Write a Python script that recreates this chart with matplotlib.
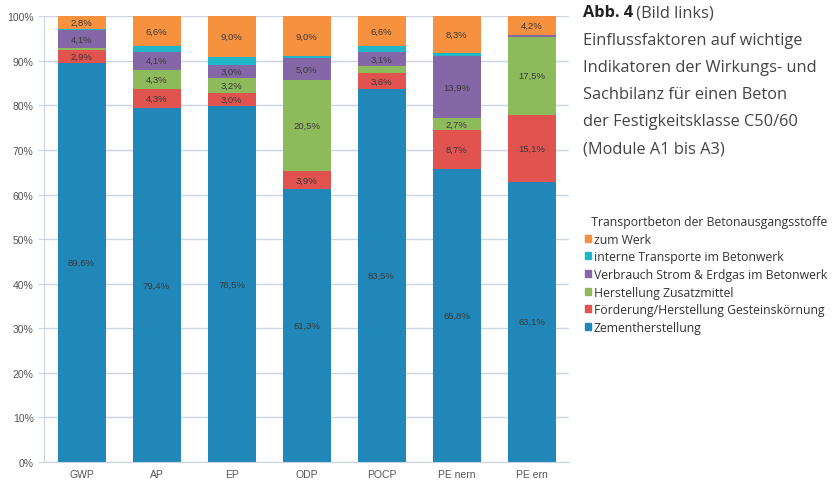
import numpy as np
import matplotlib
matplotlib.use('Agg')
import matplotlib.pyplot as plt
from matplotlib.patches import Patch

# indicators on the x axis
categories = ['GWP', 'AP', 'EP', 'ODP', 'POCP', 'PE nern', 'PE ern']

# contributions in % (bottom to top)
zement = [89.6, 79.4, 78.5, 61.3, 83.5, 65.8, 63.1]
foerderung = [2.9, 4.3, 3.0, 3.9, 3.6, 8.7, 15.1]
zusatzmittel = [0.3, 4.3, 3.2, 20.5, 1.6, 2.7, 17.5]
verbrauch = [4.1, 4.1, 3.0, 5.0, 3.1, 13.9, 0.3]
intern = [0.3, 1.3, 1.7, 0.3, 1.5, 0.6, 0.1]
transport = [2.8, 6.6, 9.0, 9.0, 6.6, 8.3, 4.2]

series = [zement, foerderung, zusatzmittel, verbrauch, intern, transport]
names = ['Zementherstellung',
         'Förderung/Herstellung Gesteinskörnung',
         'Herstellung Zusatzmittel',
         'Verbrauch Strom & Erdgas im Betonwerk',
         'interne Transporte im Betonwerk',
         'zum Werk']
colors = ['#2087b8', '#e0534f', '#8dba5b', '#8467a6', '#1fb6c9', '#f6913f']

plt.rcParams['font.family'] = ['Liberation Sans', 'DejaVu Sans']

fig = plt.figure(figsize=(8.38, 4.81), dpi=100)
ax = fig.add_axes([44 / 838, 1 - 463 / 481, (569 - 44) / 838, (463 - 17.3) / 481])

# 100% stacked, like the excel original
data = np.array(series, dtype=float)
totals = data.sum(axis=0)
x = np.arange(len(categories))
bottom = np.zeros(len(categories))
for vals, raw, col in zip(data / totals * 100, data, colors):
    ax.bar(x, vals, bottom=bottom, width=0.64, color=col, zorder=2)
    for xi, b, v, r in zip(x, bottom, vals, raw):
        if r >= 2.5:
            ax.text(xi, b + v / 2, ('%.1f%%' % r).replace('.', ','), ha='center', va='center',
                    fontsize=6.8, color='#3a3a3a', zorder=3)
    bottom += vals

ax.set_xlim(-0.5, len(categories) - 0.5)
ax.set_ylim(0, 100)
ax.set_yticks(np.arange(0, 101, 10))
ax.set_yticklabels(['%d%%' % v for v in range(0, 101, 10)])
ax.set_xticks(x)
ax.set_xticklabels(categories)
ax.yaxis.grid(True, color='#c9d6e2', linewidth=1, zorder=0)
for s in ['top', 'right']:
    ax.spines[s].set_visible(False)
for s in ['left', 'bottom']:
    ax.spines[s].set_color('#c9d6e2')
ax.tick_params(axis='y', colors='#c9d6e2', labelcolor='#555555', labelsize=7.5, length=4)
ax.tick_params(axis='x', length=0, labelcolor='#555555', labelsize=7.5, pad=5)

# legend
handles = [Patch(color=c) for c in colors][::-1]
labels = names[::-1]
leg = fig.legend(handles, labels, loc='upper left', bbox_to_anchor=(585 / 838, 1 - 216 / 481),
                 frameon=False, title='  Transportbeton der Betonausgangsstoffe',
                 alignment='left', handlelength=0.5, handleheight=0.5, handletextpad=0.2,
                 labelspacing=0.38, borderaxespad=0, borderpad=0,
                 prop={'family': 'Open Sans', 'size': 8.8},
                 title_fontproperties={'family': 'Open Sans', 'size': 8.8})
for t in leg.get_texts():
    t.set_color('#333333')
leg.get_title().set_color('#333333')

# caption
fig.text(583 / 838, 1 - 13 / 481, 'Abb. 4', fontsize=11.8, fontweight='bold', family='Open Sans',
         color='#222222', va='center')
fig.text(632 / 838, 1 - 13 / 481, ' (Bild links)', fontsize=11.8, family='Open Sans',
         color='#444444', va='center')
fig.text(583 / 838, 1 - 33 / 481,
         'Einflussfaktoren auf wichtige\nIndikatoren der Wirkungs- und\nSachbilanz für einen Beton\n'
         'der Festigkeitsklasse C50/60\n(Module A1 bis A3)',
         fontsize=11.8, family='Open Sans', color='#444444', va='top', linespacing=1.92)

fig.savefig('out.png', dpi=100)
